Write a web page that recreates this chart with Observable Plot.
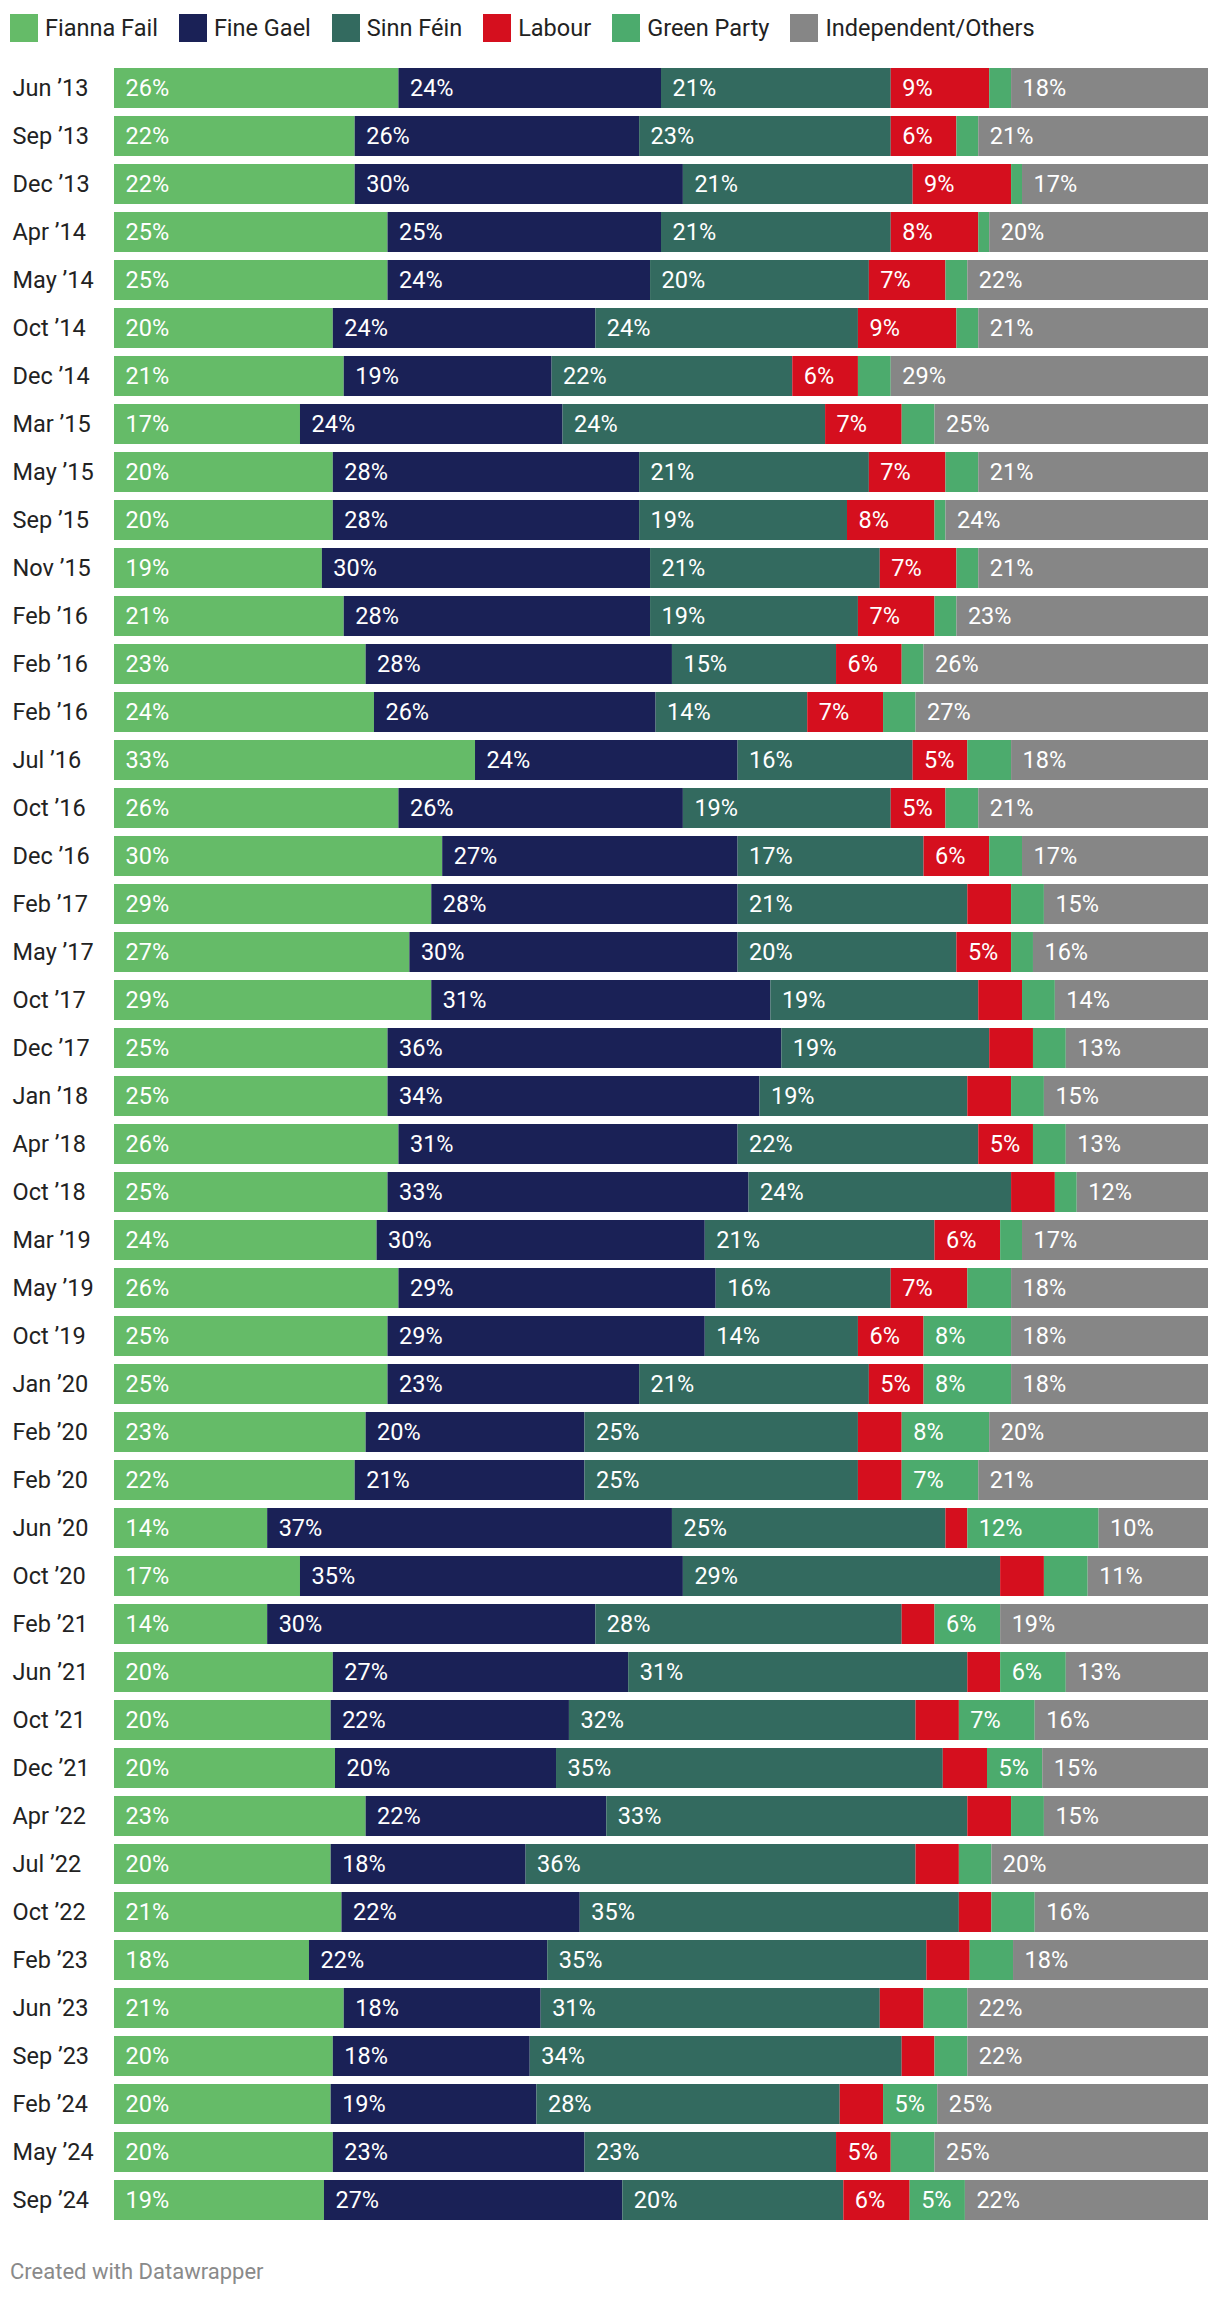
<!DOCTYPE html>
<html>
<head>
<meta charset="utf-8">
<script src="https://cdn.jsdelivr.net/npm/d3@7"></script>
<script src="https://cdn.jsdelivr.net/npm/@observablehq/plot@0.6"></script>
<style>
  html, body { margin: 0; padding: 0; background: #fff; }
  body { width: 1220px; font-family: Roboto, "Noto Sans", sans-serif; }
  #legend { height: 56px; display: flex; align-items: flex-start; padding-left: 10px; box-sizing: border-box; }
  .item { display: flex; align-items: center; margin-top: 14px; margin-right: 21px; }
  .sw { width: 28px; height: 28px; margin-right: 7px; }
  .lt { font-size: 23.5px; color: #222; line-height: 28px; }
  #footer { margin-top: 15px; padding-left: 10px; font-size: 22px; line-height: 26px; color: #8a8a8a; }
  svg { display: block; }
</style>
</head>
<body>
<div id="legend"></div>
<div id="chart"></div>
<div id="footer">Created with Datawrapper</div>
<script>
const labels = ["Jun ’13","Sep ’13","Dec ’13","Apr ’14","May ’14","Oct ’14","Dec ’14","Mar ’15","May ’15","Sep ’15","Nov ’15","Feb ’16","Feb ’16","Feb ’16","Jul ’16","Oct ’16","Dec ’16","Feb ’17","May ’17","Oct ’17","Dec ’17","Jan ’18","Apr ’18","Oct ’18","Mar ’19","May ’19","Oct ’19","Jan ’20","Feb ’20","Feb ’20","Jun ’20","Oct ’20","Feb ’21","Jun ’21","Oct ’21","Dec ’21","Apr ’22","Jul ’22","Oct ’22","Feb ’23","Jun ’23","Sep ’23","Feb ’24","May ’24","Sep ’24"];

const parties = ["Fianna Fail", "Fine Gael", "Sinn Féin", "Labour", "Green Party", "Independent/Others"];
const colors = ["#65bb68", "#1a2156", "#336a5f", "#d50f1e", "#4cab6d", "#868686"];

const fiannaFail = [26,22,22,25,25,20,21,17,20,20,19,21,23,24,33,26,30,29,27,29,25,25,26,25,24,26,25,25,23,22,14,17,14,20,20,20,23,20,21,18,21,20,20,20,19];
const fineGael   = [24,26,30,25,24,24,19,24,28,28,30,28,28,26,24,26,27,28,30,31,36,34,31,33,30,29,29,23,20,21,37,35,30,27,22,20,22,18,22,22,18,18,19,23,27];
const sinnFein   = [21,23,21,21,20,24,22,24,21,19,21,19,15,14,16,19,17,21,20,19,19,19,22,24,21,16,14,21,25,25,25,29,28,31,32,35,33,36,35,35,31,34,28,23,20];
const labour     = [9,6,9,8,7,9,6,7,7,8,7,7,6,7,5,5,6,4,5,4,4,4,5,4,6,7,6,5,4,4,2,4,3,3,4,4,4,4,3,4,4,3,4,5,6];
const greenParty = [2,2,1,1,2,2,3,3,3,1,2,2,2,3,4,3,3,3,2,3,3,3,3,2,2,4,8,8,8,7,12,4,6,6,7,5,3,3,4,4,4,3,5,4,5];
const others     = [18,21,17,20,22,21,29,25,21,24,21,23,26,27,18,21,17,15,16,14,13,15,13,12,17,18,18,18,20,21,10,11,19,13,16,15,15,20,16,18,22,22,25,25,22];

const series = [fiannaFail, fineGael, sinnFein, labour, greenParty, others];
const rows = labels.map((l, i) => i);
const data = [];
rows.forEach(i => parties.forEach((p, j) => data.push({row: i, party: p, value: series[j][i]})));

// Legend
const legend = document.getElementById("legend");
parties.forEach((p, j) => {
  const it = document.createElement("div"); it.className = "item";
  const sw = document.createElement("div"); sw.className = "sw"; sw.style.background = colors[j];
  const t = document.createElement("span"); t.className = "lt"; t.textContent = p;
  it.appendChild(sw); it.appendChild(t); legend.appendChild(it);
});

const chart = Plot.plot({
  width: 1220,
  height: 2188,
  marginLeft: 114,
  marginRight: 12,
  marginTop: 8,
  marginBottom: 20,
  style: {fontFamily: "Roboto, 'Noto Sans', sans-serif", fontSize: "23.5px", color: "#222", background: "#fff"},
  x: {axis: null, domain: [0, 1]},
  y: {type: "band", domain: rows, paddingInner: 8/48, paddingOuter: 4/48, axis: null},
  color: {domain: parties, range: colors},
  marks: [
    Plot.barX(data, Plot.stackX({x: "value", y: "row", fill: "party", z: "party", offset: "normalize", order: parties})),
    Plot.text(data, Plot.stackX1({
      x: "value", y: "row", z: "party", offset: "normalize", order: parties,
      text: d => d.value >= 5 ? d.value + "%" : "",
      textAnchor: "start", dx: 11, fill: "white", fontSize: 23.5
    })),
    Plot.axisY({label: null, tickSize: 0, tickPadding: 0, dx: -102, textAnchor: "start", tickFormat: i => labels[i], fontSize: 23.5, fill: "#222"})
  ]
});
document.getElementById("chart").appendChild(chart);
</script>
</body>
</html>
